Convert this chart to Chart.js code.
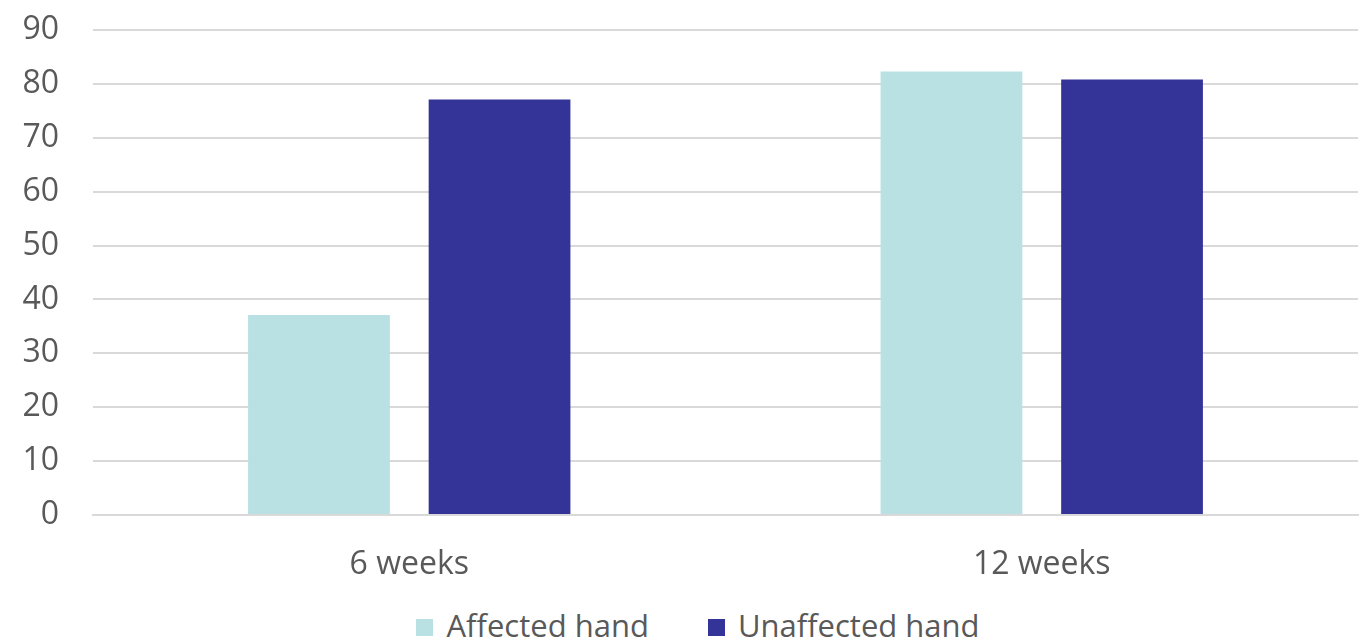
<!DOCTYPE html>
<html>
<head>
<meta charset="utf-8">
<script src="https://cdn.jsdelivr.net/npm/chart.js@4"></script>
<style>
  html, body { margin: 0; padding: 0; background: #fff; overflow: hidden; }
  #hand_chart { display: block; }
  #legend { display: flex; justify-content: center; align-items: center; height: 38px; margin: 0; padding: 6px 0 0 32px;
            font-family: 'Open Sans', sans-serif; font-size: 31px; color: #595959; }
  #legend .item { display: flex; align-items: center; margin-right: 59px; }
  #legend .item:last-child { margin-right: 0; }
  #legend .box { width: 17px; height: 17px; margin-right: 13px; margin-top: 4px; }
</style>
</head>
<body>
<canvas id="hand_chart" width="1364" height="600"></canvas>
<div id="legend"></div>
<script>
const categories = ['6 weeks', '12 weeks'];
const affectedHand = [37.1, 82.3];
const unaffectedHand = [77.1, 80.8];
const yTicks = [0, 10, 20, 30, 40, 50, 60, 70, 80, 90];

window.onload = function(){
    // bar chart, two series
    const ctx = document.getElementById('hand_chart');
    const myChart = new Chart(ctx, {
        type: 'bar',
        data: {
            labels: categories,
            datasets: [{
                label: 'Affected hand',
                data: affectedHand,
                backgroundColor: '#b9e0e3',
                borderWidth: 0
            },
            {
                label: 'Unaffected hand',
                data: unaffectedHand,
                backgroundColor: '#343397',
                borderWidth: 0
            }]
        },
        options: {
            responsive: false,
            animation: false,
            categoryPercentage: 0.571,
            barPercentage: 0.785,
            layout: { padding: { left: 23, right: 6, top: 30, bottom: 22 } },
            plugins: {
                legend: { display: false },
                tooltip: { enabled: false }
            },
            scales: {
                x: {
                    grid: { display: false },
                    border: { color: '#d9d9d9', width: 2 },
                    ticks: {
                        color: '#595959',
                        font: { family: 'Open Sans', size: 32 },
                        padding: 23
                    },
                    afterFit: function(axis){
                        axis.height = 63;
                        axis.paddingLeft = 0;
                        axis.paddingRight = 0;
                    }
                },
                y: {
                    min: 0,
                    max: 90,
                    afterBuildTicks: function(axis){
                        axis.ticks = yTicks.map(function(v){ return { value: v }; });
                    },
                    grid: { color: '#d9d9d9', lineWidth: 2, drawTicks: false },
                    border: { display: false },
                    ticks: {
                        color: '#595959',
                        font: { family: 'Open Sans', size: 32 },
                        padding: 34
                    },
                    afterFit: function(axis){
                        // padding 34 is only horizontal here
                        axis.width = 70;
                        axis.paddingTop = 0;
                        axis.paddingBottom = 0;
                    }
                }
            }
        }
    });

    // legend as html, from the datasets
    const legendBox = document.getElementById('legend');
    myChart.data.datasets.forEach(function(ds){
        let item = document.createElement('span');
        item.className = 'item';
        let box = document.createElement('span');
        box.className = 'box';
        box.style.background = ds.backgroundColor;
        item.appendChild(box);
        item.appendChild(document.createTextNode(ds.label));
        legendBox.appendChild(item);
    });
}
</script>
</body>
</html>
